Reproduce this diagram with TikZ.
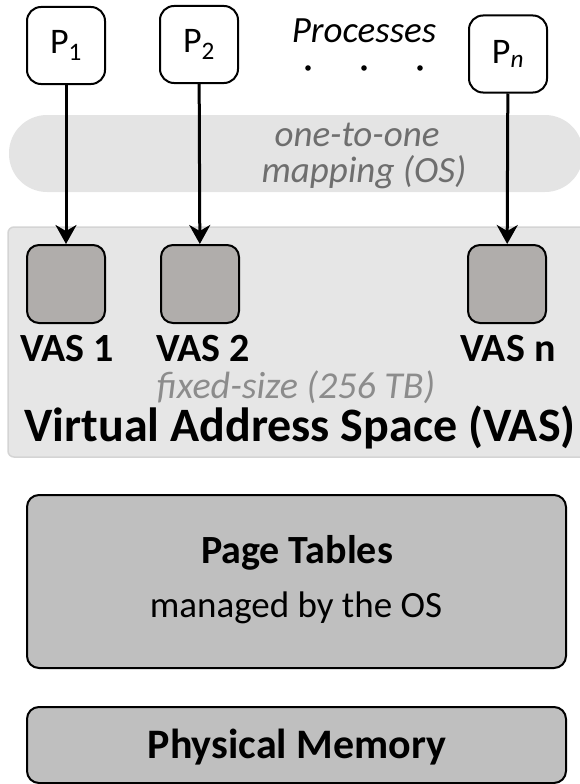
\documentclass[tikz,border=0pt]{standalone}
\usepackage{fontspec}
\setmainfont{Carlito}
\usepackage{xcolor}
\usetikzlibrary{arrows.meta}

\definecolor{bandgray}{HTML}{E4E4E4}
\definecolor{vasgray}{HTML}{E6E6E6}
\definecolor{vasedge}{HTML}{D4D4D4}
\definecolor{boxgray}{HTML}{B0ADAB}
\definecolor{tablegray}{HTML}{BFBFBF}
\definecolor{notegray}{HTML}{6E6E6E}
\definecolor{sizegray}{HTML}{8C8C8C}

\begin{document}
\begin{tikzpicture}[x=1pt,y=-1pt]
    \tikzstyle{proc} = [draw,line width=2pt,rounded corners=14pt,fill=white,minimum width=78pt,minimum height=77pt,inner sep=0pt]
    \tikzstyle{vasbox} = [draw,line width=2pt,rounded corners=12pt,fill=boxgray,minimum width=78pt,minimum height=78pt,inner sep=0pt]
    \tikzstyle{layer} = [draw,line width=2pt,rounded corners=12pt,fill=tablegray,minimum width=539pt,inner sep=0pt]
    \tikzstyle{lbl} = [anchor=base,inner sep=0pt,font=\fontsize{40}{42}\selectfont\bfseries]
    \tikzstyle{arr} = [line width=3pt,-{Stealth[length=19pt,width=21pt,inset=6pt]}]
        \useasboundingbox (0,0) rectangle (580,784);
        % mapping band and VAS area
        \node[fill=bandgray,rounded corners=38pt,minimum width=574pt,minimum height=77pt,inner sep=0pt] (band) at (296,153.5) {};
        \node[anchor=base,inner sep=0pt,text=notegray,font=\fontsize{37}{38}\selectfont\itshape] (maptxt) at (357,146) {one-to-one};
        \node[anchor=base,inner sep=0pt,text=notegray,font=\fontsize{37}{38}\selectfont\itshape] (maptxt2) at (364,182) {mapping (OS)};
        \node[draw=vasedge,line width=1.5pt,fill=vasgray,rounded corners=6pt,minimum width=580pt,minimum height=230pt,inner sep=0pt] (vas) at (298,342) {};
        % processes
        \node[proc] (p1) at (66,45.5) {\fontsize{36}{38}\selectfont P\textsubscript{1}};
        \node[proc] (p2) at (199,44.5) {\fontsize{36}{38}\selectfont P\textsubscript{2}};
        \node[proc] (pn) at (508,54) {\fontsize{36}{38}\selectfont P\textsubscript{\itshape n}};
        \node[anchor=base,inner sep=0pt,font=\fontsize{37}{38}\selectfont\itshape] (proctxt) at (364,43) {Processes};
        \foreach \x/\name in {308/d1,364/d2,420/d3}
            \fill (\x,68) circle (2.8pt);
        % address spaces
        \node[vasbox] (vas1) at (66,284) {};
        \node[vasbox] (vas2) at (200,284) {};
        \node[vasbox] (vasn) at (507,284) {};
        \node[lbl] (l1) at (67,361) {VAS 1};
        \node[lbl] (l2) at (203,361) {VAS 2};
        \node[lbl] (ln) at (508,361) {VAS n};
        \node[anchor=base,inner sep=0pt,text=sizegray,font=\fontsize{38}{40}\selectfont\itshape] (sizetxt) at (296,398) {fixed-size (256 TB)};
        \node[anchor=base,inner sep=0pt,font=\fontsize{48}{50}\selectfont\bfseries] (vastxt) at (300,441) {Virtual Address Space (VAS)};
        \draw[arr] (p1) -- (vas1);
        \draw[arr] (p2) -- (vas2);
        \draw[arr] (pn) -- (vasn);
        % page tables and memory
        \node[layer,minimum height=173pt] (pt) at (296.5,581.5) {};
        \node[anchor=base,inner sep=0pt,font=\fontsize{40}{42}\selectfont\bfseries] (pttxt) at (297,563) {Page Tables};
        \node[anchor=base,inner sep=0pt,font=\fontsize{37}{38}\selectfont] (pttxt2) at (296,617) {managed by the OS};
        \node[layer,minimum height=76pt] (pm) at (296.5,745) {};
        \node[anchor=base,inner sep=0pt,font=\fontsize{42}{44}\selectfont\bfseries] (pmtxt) at (297,758) {Physical Memory};
    \end{tikzpicture}
\end{document}
